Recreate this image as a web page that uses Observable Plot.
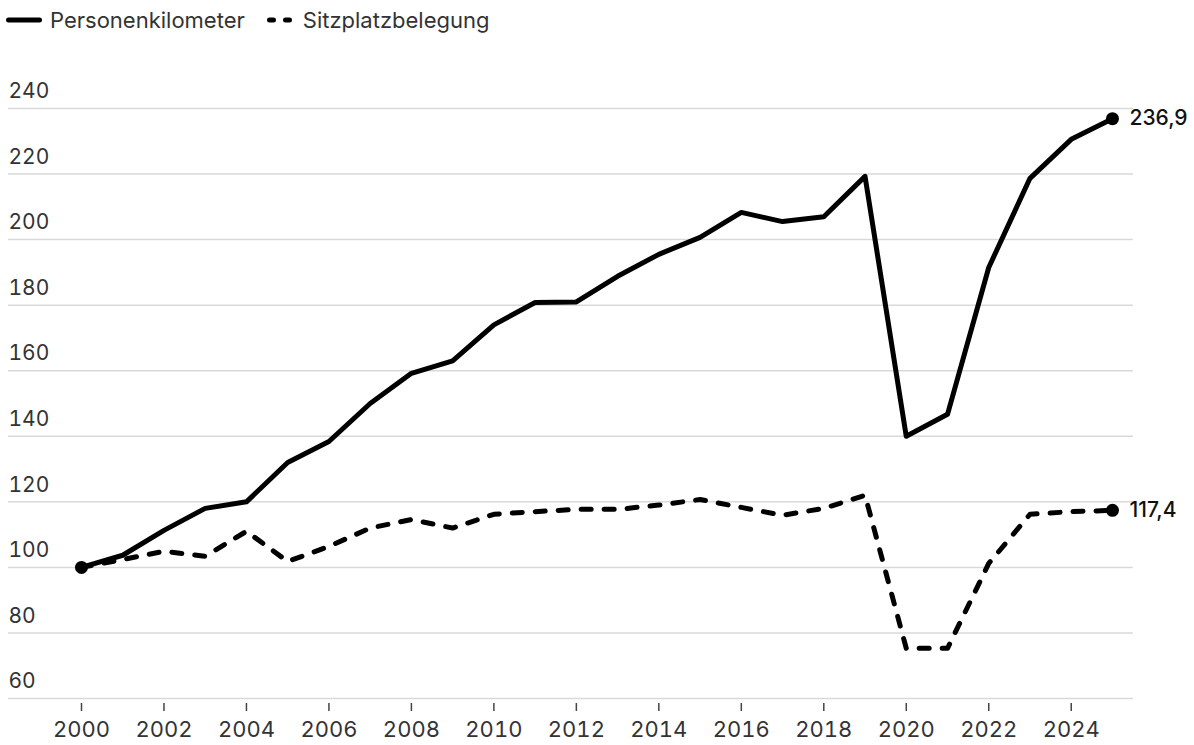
<!DOCTYPE html>
<html>
<head>
<meta charset="utf-8">
<script src="https://cdn.jsdelivr.net/npm/d3@7"></script>
<script src="https://cdn.jsdelivr.net/npm/@observablehq/plot@0.6"></script>
<style>
  html, body { margin: 0; padding: 0; background: #fff; }
  body { font-family: Inter, "Noto Sans", sans-serif; color: #333; width: 1194px; }
  #legend { height: 40px; display: flex; align-items: center; font-size: 22px; padding-left: 6px; box-sizing: border-box; padding-top: 0px;}
  #legend .item { display: flex; align-items: center; margin-right: 22px; }
  #legend svg { margin-right: 8px; }
</style>
</head>
<body>
<div id="legend"></div>
<div id="chart"></div>
<script>
const years = [2000,2001,2002,2003,2004,2005,2006,2007,2008,2009,2010,2011,2012,2013,2014,2015,2016,2017,2018,2019,2020,2021,2022,2023,2024,2025];
const personenkilometer = [100,103.7,111.3,118,120,132,138.4,150,159.2,163,174,180.8,181,188.8,195.5,200.7,208.3,205.5,207,219.3,140,146.7,191.5,218.7,230.6,236.9];
const sitzplatzbelegung = [100,102.4,104.9,103.4,111,101.8,106.4,112,114.6,112,116.2,117,117.7,117.7,119,120.7,118.3,115.9,118,122,75.3,75.3,101.2,116.2,117,117.4];
const seriesNames = ["Personenkilometer", "Sitzplatzbelegung"];
const yTicks = [60,80,100,120,140,160,180,200,220,240];
const xTicks = [2000,2002,2004,2006,2008,2010,2012,2014,2016,2018,2020,2022,2024];
const endLabels = ["236,9", "117,4"];

const dash = "10,13";

// Legend
const legend = document.getElementById("legend");
seriesNames.forEach((name, i) => {
  const item = document.createElement("div");
  item.className = "item";
  const w = i === 0 ? 36 : 28;
  item.innerHTML = `<svg width="${w}" height="10"><line x1="2.5" y1="5" x2="${w-2.5}" y2="5" stroke="#000" stroke-width="5" stroke-linecap="round" ${i===1 ? `stroke-dasharray="4,12"` : ""}/></svg><span>${name}</span>`;
  legend.appendChild(item);
});

const pk = years.map((y, i) => ({year: y, value: personenkilometer[i]}));
const sp = years.map((y, i) => ({year: y, value: sitzplatzbelegung[i]}));
const ends = [
  {year: years[years.length-1], value: personenkilometer[personenkilometer.length-1], label: endLabels[0]},
  {year: years[years.length-1], value: sitzplatzbelegung[sitzplatzbelegung.length-1], label: endLabels[1]}
];
const starts = [{year: years[0], value: personenkilometer[0]}];

const chart = Plot.plot({
  width: 1194,
  height: 705,
  marginLeft: 8,
  marginRight: 61,
  marginTop: 68,
  marginBottom: 47,
  style: {fontFamily: "Inter, 'Noto Sans', sans-serif", fontSize: "20px", color: "#333", background: "#fff"},
  x: {domain: [1998.23, 2025.51]},
  y: {domain: [60, 240]},
  marks: [
    Plot.ruleY(yTicks, {stroke: "#d9d9d9", strokeWidth: 1.5}),
    Plot.axisY(yTicks, {anchor: "left", tickSize: 0, tickPadding: 0, textAnchor: "start", dy: -17, fill: "#333", fontSize: 21, label: null}),
    Plot.axisX(xTicks, {anchor: "bottom", tickSize: 8, tickPadding: 10, stroke: "#444", strokeWidth: 1.5, tickFormat: d => String(d), fill: "#333", fontSize: 22, label: null, dy: 5}),
    Plot.line(sp, {x: "year", y: "value", stroke: "#000", strokeWidth: 5, strokeDasharray: dash, strokeLinecap: "round", strokeLinejoin: "round"}),
    Plot.line(pk, {x: "year", y: "value", stroke: "#000", strokeWidth: 5, strokeLinejoin: "round"}),
    Plot.dot(starts, {x: "year", y: "value", r: 6.5, fill: "#000"}),
    Plot.dot(ends, {x: "year", y: "value", r: 6.5, fill: "#000"}),
    Plot.text(ends, {x: "year", y: "value", text: "label", textAnchor: "start", dx: 17, fill: "#111", fontSize: 21, fontWeight: 500})
  ]
});
document.getElementById("chart").appendChild(chart);
</script>
</body>
</html>
